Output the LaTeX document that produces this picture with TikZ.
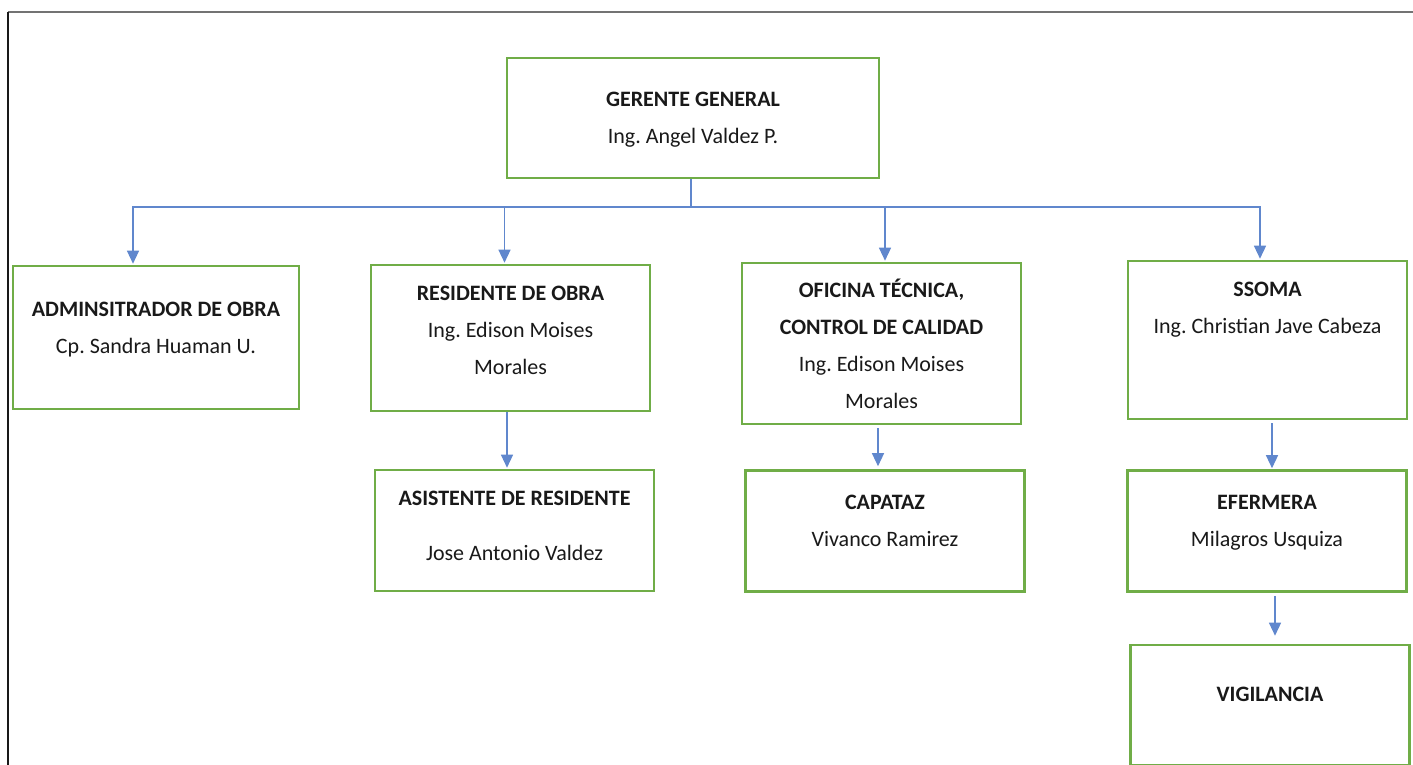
\documentclass[tikz,border=0pt]{standalone}
\usepackage{fontspec}
\setmainfont{Carlito}
\frenchspacing
\usetikzlibrary{arrows.meta, positioning}
\definecolor{orgverde}{HTML}{70AD47}
\definecolor{orgazul}{HTML}{4472C4}

\begin{document}
\begin{tikzpicture}[
  x=1pt, y=-1pt,
  every node/.style={font=\fontsize{22}{37}\selectfont, text=black!90},
  caja/.style={draw=orgverde, line width=2.6pt, align=center, inner sep=0pt,
    minimum width=279pt, minimum height=121pt},
  linea/.style={draw=orgazul!85, line width=1.3pt},
  flecha/.style={linea, -{Triangle[width=12pt,length=13pt]}, shorten >=1pt}
]
\useasboundingbox (0,0) rectangle (1413,765);
% marco
\draw[black!55, line width=2pt] (8,12) -- (1413,12);
\draw[black!90, line width=1.5pt] (8,12) -- (8,765);

% nivel 0
\node[caja, minimum width=372pt, minimum height=120pt, text depth=0pt] (ger) at (693,118)
  {\textbf{GERENTE GENERAL}\\Ing. Angel Valdez P.};

% nivel 1
\node[caja, minimum width=286pt, minimum height=143pt, text depth=20pt] (adm) at (156,337.5)
  {\textbf{ADMINSITRADOR DE OBRA}\\Cp. Sandra Huaman U.};
\node[caja, minimum height=146pt, text depth=16pt] (res) at (510.5,338)
  {\textbf{RESIDENTE DE OBRA}\\Ing. Edison Moises\\Morales};
\node[caja, minimum height=161pt] (ofi) at (881.5,343.5)
  {\textbf{OFICINA TÉCNICA,}\\\textbf{CONTROL DE CALIDAD}\\Ing. Edison Moises\\Morales};
\node[caja, minimum height=158pt, text depth=65pt] (sso) at (1267.5,340)
  {\textbf{SSOMA}\\Ing. Christian Jave Cabeza};

% nivel 2
\node[caja, text depth=10pt] (asi) at (514.5,530.5)
  {\textbf{ASISTENTE DE RESIDENTE}\\[18pt]Jose Antonio Valdez};
\node[caja, text depth=21pt] (cap) at (885,531)
  {\textbf{CAPATAZ}\\Vivanco Ramirez};
\node[caja, text depth=21pt] (efe) at (1267,531)
  {\textbf{EFERMERA}\\Milagros Usquiza};

% nivel 3
\node[caja, minimum height=120pt, text depth=21pt] (vig) at (1270,705)
  {\textbf{VIGILANCIA}};

% conectores
\coordinate (nivel) at (0,207);
\draw[linea] ([xshift=-2pt]ger.south) -- ([xshift=-2pt]ger.south |- nivel) coordinate (bus);
\draw[flecha] (bus) -| ([xshift=-23pt]adm.north);
\draw[flecha] (bus) -| ([xshift=-6pt]res.north);
\draw[flecha] (bus) -| ([xshift=3.5pt]ofi.north);
\draw[flecha] (bus) -| ([xshift=-7.5pt]sso.north);

\draw[flecha] ([xshift=-3.5pt]res.south) -- ([xshift=-3.5pt]res.south |- asi.north);
\draw[flecha, shorten <=3pt, shorten >=3pt] ([xshift=-3.5pt]ofi.south) -- ([xshift=-3.5pt]ofi.south |- cap.north);
\draw[flecha, shorten <=3pt] ([xshift=4.5pt]sso.south) -- ([xshift=4.5pt]sso.south |- efe.north);
\draw[flecha, shorten <=3pt, shorten >=8pt] ([xshift=8pt]efe.south) -- ([xshift=8pt]efe.south |- vig.north);
\end{tikzpicture}
\end{document}
